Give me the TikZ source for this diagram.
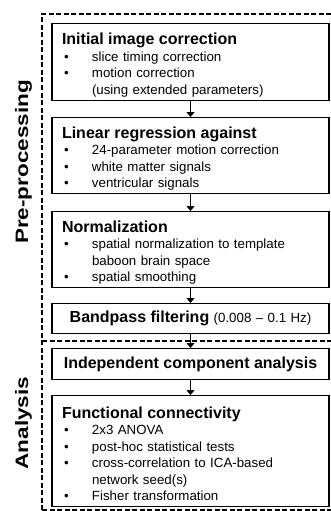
\documentclass[tikz,border=0pt]{standalone}
\usepackage{fontspec}
\setmainfont{Liberation Sans}
\usetikzlibrary{arrows.meta}

\newcommand{\itm}[1]{\makebox[30pt][l]{\hspace{2pt}\textbullet}#1}
\newcommand{\cont}[1]{\hspace*{30pt}#1}
\newcommand{\ttl}[1]{{\bfseries\fontsize{16}{16.5}\selectfont #1}}
\newcommand{\hd}[1]{\rule{0pt}{17.5pt}\ttl{#1}}
\newcommand{\sidetext}[1]{\scalebox{1.25}[1]{#1}}

\tikzset{
  stepbox/.style={draw, line width=1.1pt, anchor=north, text width=257pt,
    inner xsep=10pt, inner ysep=2pt, font=\fontsize{13.3}{16.5}\selectfont},
  listbox/.style={stepbox, align=left},
  onebox/.style={stepbox, align=center},
  flowarrow/.style={line width=1.1pt, -{Triangle[length=5pt,width=8pt]}},
  frameline/.style={line width=1.1pt, dash pattern=on 5pt off 2.5pt},
  sidelabel/.style={rotate=90, anchor=base, font=\bfseries\fontsize{18}{18}\selectfont}
}

\begin{document}
\begin{tikzpicture}[x=1pt,y=1pt]
        \useasboundingbox (0,0) rectangle (331,-511);

        % Dashed frame
        \draw[frameline] (331,-14) -- (42,-14) -- (42,-511);
        \draw[frameline] (42,-341) -- (331,-341);
        \draw[frameline] (42,-510) -- (331,-510);

        % Side labels
        \node[sidelabel] (prelabel) at (28,-162) {\sidetext{Pre-processing}};
        \node[sidelabel] (analabel) at (28,-423) {\sidetext{Analysis}};

        % Pre-processing steps
        \node[listbox, minimum height=77pt] (init) at (190.5,-23) {\hd{Initial image correction}\\
          \itm{slice timing correction}\\
          \itm{motion correction}\\
          \cont{(using extended parameters)}};
        \node[listbox, minimum height=76pt] (regress) at (190.5,-117) {\hd{Linear regression against}\\
          \itm{24-parameter motion correction}\\
          \itm{white matter signals}\\
          \itm{ventricular signals}};
        \node[listbox, minimum height=76pt] (norm) at (190.5,-211) {\hd{Normalization}\\
          \itm{spatial normalization to template}\\
          \cont{baboon brain space}\\
          \itm{spatial smoothing}};
        \node[onebox, minimum height=30pt] (bandpass) at (190.5,-303) {\ttl{Bandpass filtering} (0.008 -- 0.1 Hz)};

        % Analysis steps
        \node[onebox, minimum height=31pt] (ica) at (190.5,-348) {\ttl{Independent component analysis}};
        \node[listbox, minimum height=111pt] (funcconn) at (190.5,-395) {\hd{Functional connectivity}\\
          \itm{2x3 ANOVA}\\
          \itm{post-hoc statistical tests}\\
          \itm{cross-correlation to ICA-based}\\
          \cont{network seed(s)}\\
          \itm{Fisher transformation}};

        % Arrows
        \draw[flowarrow] (init) -- (regress);
        \draw[flowarrow] (regress) -- (norm);
        \draw[flowarrow] (norm) -- (bandpass);
        \draw[flowarrow] (bandpass) -- (ica);
        \draw[flowarrow] (ica) -- (funcconn);
\end{tikzpicture}
\end{document}
